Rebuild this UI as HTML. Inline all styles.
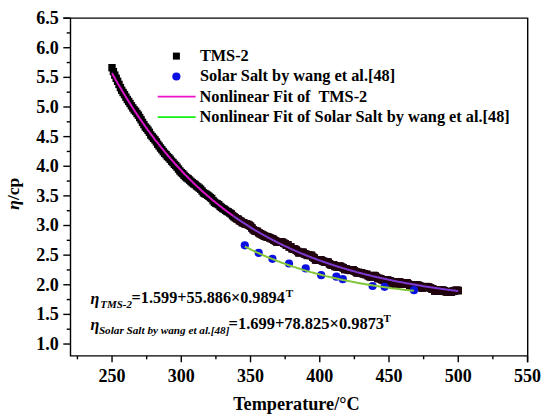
<!DOCTYPE html><html><head><meta charset="utf-8"><style>html,body{margin:0;padding:0;background:#fff;}svg{display:block;}text{font-family:"Liberation Serif",serif;font-weight:bold;fill:#000;}</style></head><body>
<svg width="550" height="417" viewBox="0 0 550 417">
<defs><clipPath id="cl"><rect x="0" y="0" width="233.5" height="417"/></clipPath><clipPath id="cr"><rect x="233.5" y="0" width="400" height="417"/></clipPath></defs>
<rect width="550" height="417" fill="#fff"/>
<g id="sq"><rect x="108.3" y="64.0" width="7.4" height="7.4"/><rect x="109.7" y="67.9" width="7.4" height="7.4"/><rect x="111.1" y="71.4" width="7.4" height="7.4"/><rect x="112.5" y="74.6" width="7.4" height="7.4"/><rect x="113.9" y="77.6" width="7.4" height="7.4"/><rect x="115.3" y="80.7" width="7.4" height="7.4"/><rect x="116.7" y="83.9" width="7.4" height="7.4"/><rect x="118.0" y="86.6" width="7.4" height="7.4"/><rect x="119.4" y="88.8" width="7.4" height="7.4"/><rect x="120.8" y="90.9" width="7.4" height="7.4"/><rect x="122.2" y="93.4" width="7.4" height="7.4"/><rect x="123.6" y="95.8" width="7.4" height="7.4"/><rect x="125.0" y="97.7" width="7.4" height="7.4"/><rect x="126.3" y="99.8" width="7.4" height="7.4"/><rect x="127.7" y="102.1" width="7.4" height="7.4"/><rect x="129.1" y="104.2" width="7.4" height="7.4"/><rect x="130.5" y="106.2" width="7.4" height="7.4"/><rect x="131.9" y="107.7" width="7.4" height="7.4"/><rect x="133.3" y="109.8" width="7.4" height="7.4"/><rect x="134.7" y="111.5" width="7.4" height="7.4"/><rect x="136.0" y="113.9" width="7.4" height="7.4"/><rect x="137.4" y="116.1" width="7.4" height="7.4"/><rect x="138.8" y="118.7" width="7.4" height="7.4"/><rect x="140.2" y="120.9" width="7.4" height="7.4"/><rect x="141.6" y="123.3" width="7.4" height="7.4"/><rect x="143.0" y="124.7" width="7.4" height="7.4"/><rect x="144.3" y="126.5" width="7.4" height="7.4"/><rect x="145.7" y="128.6" width="7.4" height="7.4"/><rect x="147.1" y="131.3" width="7.4" height="7.4"/><rect x="148.5" y="132.9" width="7.4" height="7.4"/><rect x="149.9" y="134.6" width="7.4" height="7.4"/><rect x="151.3" y="136.2" width="7.4" height="7.4"/><rect x="152.7" y="138.2" width="7.4" height="7.4"/><rect x="154.0" y="140.5" width="7.4" height="7.4"/><rect x="155.4" y="142.3" width="7.4" height="7.4"/><rect x="156.8" y="144.3" width="7.4" height="7.4"/><rect x="158.2" y="146.0" width="7.4" height="7.4"/><rect x="159.6" y="147.9" width="7.4" height="7.4"/><rect x="161.0" y="149.6" width="7.4" height="7.4"/><rect x="162.4" y="151.0" width="7.4" height="7.4"/><rect x="163.7" y="152.8" width="7.4" height="7.4"/><rect x="165.1" y="154.0" width="7.4" height="7.4"/><rect x="166.5" y="155.6" width="7.4" height="7.4"/><rect x="167.9" y="157.5" width="7.4" height="7.4"/><rect x="169.3" y="158.9" width="7.4" height="7.4"/><rect x="170.7" y="160.6" width="7.4" height="7.4"/><rect x="172.0" y="161.8" width="7.4" height="7.4"/><rect x="173.4" y="163.5" width="7.4" height="7.4"/><rect x="174.8" y="165.4" width="7.4" height="7.4"/><rect x="176.2" y="167.3" width="7.4" height="7.4"/><rect x="177.6" y="168.9" width="7.4" height="7.4"/><rect x="179.0" y="170.0" width="7.4" height="7.4"/><rect x="180.4" y="171.6" width="7.4" height="7.4"/><rect x="181.7" y="173.0" width="7.4" height="7.4"/><rect x="183.1" y="174.2" width="7.4" height="7.4"/><rect x="184.5" y="175.1" width="7.4" height="7.4"/><rect x="185.9" y="176.4" width="7.4" height="7.4"/><rect x="187.3" y="177.8" width="7.4" height="7.4"/><rect x="188.7" y="179.0" width="7.4" height="7.4"/><rect x="190.0" y="180.1" width="7.4" height="7.4"/><rect x="191.4" y="180.8" width="7.4" height="7.4"/><rect x="192.8" y="182.3" width="7.4" height="7.4"/><rect x="194.2" y="183.2" width="7.4" height="7.4"/><rect x="195.6" y="184.4" width="7.4" height="7.4"/><rect x="197.0" y="185.5" width="7.4" height="7.4"/><rect x="198.4" y="187.3" width="7.4" height="7.4"/><rect x="199.7" y="189.1" width="7.4" height="7.4"/><rect x="201.1" y="189.9" width="7.4" height="7.4"/><rect x="202.5" y="190.6" width="7.4" height="7.4"/><rect x="203.9" y="191.6" width="7.4" height="7.4"/><rect x="205.3" y="192.6" width="7.4" height="7.4"/><rect x="206.7" y="193.9" width="7.4" height="7.4"/><rect x="208.0" y="194.8" width="7.4" height="7.4"/><rect x="209.4" y="197.0" width="7.4" height="7.4"/><rect x="210.8" y="198.5" width="7.4" height="7.4"/><rect x="212.2" y="199.6" width="7.4" height="7.4"/><rect x="213.6" y="200.2" width="7.4" height="7.4"/><rect x="215.0" y="201.0" width="7.4" height="7.4"/><rect x="216.4" y="202.7" width="7.4" height="7.4"/><rect x="217.7" y="203.7" width="7.4" height="7.4"/><rect x="219.1" y="204.8" width="7.4" height="7.4"/><rect x="220.5" y="205.5" width="7.4" height="7.4"/><rect x="221.9" y="206.6" width="7.4" height="7.4"/><rect x="223.3" y="207.7" width="7.4" height="7.4"/><rect x="224.7" y="208.2" width="7.4" height="7.4"/><rect x="226.1" y="209.3" width="7.4" height="7.4"/><rect x="227.4" y="210.2" width="7.4" height="7.4"/><rect x="228.8" y="211.9" width="7.4" height="7.4"/><rect x="230.2" y="213.1" width="7.4" height="7.4"/><rect x="231.6" y="214.2" width="7.4" height="7.4"/><rect x="233.0" y="215.0" width="7.4" height="7.4"/><rect x="234.4" y="215.6" width="7.4" height="7.4"/><rect x="235.7" y="216.9" width="7.4" height="7.4"/><rect x="237.1" y="217.6" width="7.4" height="7.4"/><rect x="238.5" y="218.9" width="7.4" height="7.4"/><rect x="239.9" y="219.0" width="7.4" height="7.4"/><rect x="241.3" y="220.0" width="7.4" height="7.4"/><rect x="242.7" y="220.2" width="7.4" height="7.4"/><rect x="244.1" y="220.8" width="7.4" height="7.4"/><rect x="245.4" y="221.5" width="7.4" height="7.4"/><rect x="246.8" y="222.6" width="7.4" height="7.4"/><rect x="248.2" y="224.3" width="7.4" height="7.4"/><rect x="249.6" y="226.0" width="7.4" height="7.4"/><rect x="251.0" y="226.9" width="7.4" height="7.4"/><rect x="252.4" y="227.6" width="7.4" height="7.4"/><rect x="253.7" y="227.8" width="7.4" height="7.4"/><rect x="255.1" y="229.0" width="7.4" height="7.4"/><rect x="256.5" y="230.0" width="7.4" height="7.4"/><rect x="257.9" y="230.7" width="7.4" height="7.4"/><rect x="259.3" y="231.5" width="7.4" height="7.4"/><rect x="260.7" y="232.4" width="7.4" height="7.4"/><rect x="262.1" y="232.8" width="7.4" height="7.4"/><rect x="263.4" y="233.1" width="7.4" height="7.4"/><rect x="264.8" y="233.6" width="7.4" height="7.4"/><rect x="266.2" y="234.2" width="7.4" height="7.4"/><rect x="267.6" y="234.9" width="7.4" height="7.4"/><rect x="269.0" y="235.2" width="7.4" height="7.4"/><rect x="270.4" y="236.6" width="7.4" height="7.4"/><rect x="271.8" y="237.2" width="7.4" height="7.4"/><rect x="273.1" y="238.2" width="7.4" height="7.4"/><rect x="274.5" y="238.1" width="7.4" height="7.4"/><rect x="275.9" y="238.5" width="7.4" height="7.4"/><rect x="277.3" y="238.2" width="7.4" height="7.4"/><rect x="278.7" y="238.6" width="7.4" height="7.4"/><rect x="280.1" y="239.5" width="7.4" height="7.4"/><rect x="281.4" y="240.0" width="7.4" height="7.4"/><rect x="282.8" y="241.6" width="7.4" height="7.4"/><rect x="284.2" y="241.2" width="7.4" height="7.4"/><rect x="285.6" y="243.3" width="7.4" height="7.4"/><rect x="287.0" y="243.1" width="7.4" height="7.4"/><rect x="288.4" y="245.0" width="7.4" height="7.4"/><rect x="289.8" y="245.3" width="7.4" height="7.4"/><rect x="291.1" y="245.5" width="7.4" height="7.4"/><rect x="292.5" y="246.4" width="7.4" height="7.4"/><rect x="293.9" y="247.7" width="7.4" height="7.4"/><rect x="295.3" y="249.1" width="7.4" height="7.4"/><rect x="296.7" y="248.9" width="7.4" height="7.4"/><rect x="298.1" y="248.6" width="7.4" height="7.4"/><rect x="299.4" y="248.7" width="7.4" height="7.4"/><rect x="300.8" y="250.1" width="7.4" height="7.4"/><rect x="302.2" y="250.6" width="7.4" height="7.4"/><rect x="303.6" y="251.7" width="7.4" height="7.4"/><rect x="305.0" y="251.2" width="7.4" height="7.4"/><rect x="306.4" y="251.8" width="7.4" height="7.4"/><rect x="307.8" y="251.7" width="7.4" height="7.4"/><rect x="309.1" y="253.5" width="7.4" height="7.4"/><rect x="310.5" y="254.3" width="7.4" height="7.4"/><rect x="311.9" y="256.2" width="7.4" height="7.4"/><rect x="313.3" y="256.1" width="7.4" height="7.4"/><rect x="314.7" y="256.4" width="7.4" height="7.4"/><rect x="316.1" y="256.2" width="7.4" height="7.4"/><rect x="317.4" y="256.4" width="7.4" height="7.4"/><rect x="318.8" y="257.3" width="7.4" height="7.4"/><rect x="320.2" y="257.8" width="7.4" height="7.4"/><rect x="321.6" y="258.5" width="7.4" height="7.4"/><rect x="323.0" y="258.2" width="7.4" height="7.4"/><rect x="324.4" y="258.5" width="7.4" height="7.4"/><rect x="325.8" y="260.1" width="7.4" height="7.4"/><rect x="327.1" y="261.0" width="7.4" height="7.4"/><rect x="328.5" y="261.3" width="7.4" height="7.4"/><rect x="329.9" y="261.1" width="7.4" height="7.4"/><rect x="331.3" y="262.7" width="7.4" height="7.4"/><rect x="332.7" y="263.0" width="7.4" height="7.4"/><rect x="334.1" y="263.1" width="7.4" height="7.4"/><rect x="335.5" y="262.4" width="7.4" height="7.4"/><rect x="336.8" y="262.7" width="7.4" height="7.4"/><rect x="338.2" y="263.6" width="7.4" height="7.4"/><rect x="339.6" y="264.3" width="7.4" height="7.4"/><rect x="341.0" y="265.8" width="7.4" height="7.4"/><rect x="342.4" y="265.3" width="7.4" height="7.4"/><rect x="343.8" y="265.9" width="7.4" height="7.4"/><rect x="345.1" y="266.0" width="7.4" height="7.4"/><rect x="346.5" y="266.7" width="7.4" height="7.4"/><rect x="347.9" y="266.1" width="7.4" height="7.4"/><rect x="349.3" y="266.1" width="7.4" height="7.4"/><rect x="350.7" y="267.3" width="7.4" height="7.4"/><rect x="352.1" y="268.0" width="7.4" height="7.4"/><rect x="353.5" y="269.2" width="7.4" height="7.4"/><rect x="354.8" y="268.7" width="7.4" height="7.4"/><rect x="356.2" y="269.1" width="7.4" height="7.4"/><rect x="357.6" y="269.0" width="7.4" height="7.4"/><rect x="359.0" y="269.8" width="7.4" height="7.4"/><rect x="360.4" y="270.2" width="7.4" height="7.4"/><rect x="361.8" y="270.8" width="7.4" height="7.4"/><rect x="363.1" y="270.7" width="7.4" height="7.4"/><rect x="364.5" y="272.0" width="7.4" height="7.4"/><rect x="365.9" y="272.8" width="7.4" height="7.4"/><rect x="367.3" y="273.3" width="7.4" height="7.4"/><rect x="368.7" y="272.6" width="7.4" height="7.4"/><rect x="370.1" y="271.8" width="7.4" height="7.4"/><rect x="371.5" y="272.4" width="7.4" height="7.4"/><rect x="372.8" y="273.6" width="7.4" height="7.4"/><rect x="374.2" y="274.7" width="7.4" height="7.4"/><rect x="375.6" y="274.8" width="7.4" height="7.4"/><rect x="377.0" y="275.0" width="7.4" height="7.4"/><rect x="378.4" y="276.0" width="7.4" height="7.4"/><rect x="379.8" y="276.7" width="7.4" height="7.4"/><rect x="381.1" y="276.3" width="7.4" height="7.4"/><rect x="382.5" y="277.2" width="7.4" height="7.4"/><rect x="383.9" y="276.3" width="7.4" height="7.4"/><rect x="385.3" y="277.5" width="7.4" height="7.4"/><rect x="386.7" y="277.3" width="7.4" height="7.4"/><rect x="388.1" y="278.9" width="7.4" height="7.4"/><rect x="389.5" y="279.9" width="7.4" height="7.4"/><rect x="390.8" y="280.9" width="7.4" height="7.4"/><rect x="392.2" y="280.1" width="7.4" height="7.4"/><rect x="393.6" y="278.3" width="7.4" height="7.4"/><rect x="395.0" y="278.2" width="7.4" height="7.4"/><rect x="396.4" y="278.6" width="7.4" height="7.4"/><rect x="397.8" y="279.9" width="7.4" height="7.4"/><rect x="399.2" y="280.3" width="7.4" height="7.4"/><rect x="400.5" y="280.2" width="7.4" height="7.4"/><rect x="401.9" y="279.3" width="7.4" height="7.4"/><rect x="403.3" y="279.2" width="7.4" height="7.4"/><rect x="404.7" y="280.5" width="7.4" height="7.4"/><rect x="406.1" y="281.9" width="7.4" height="7.4"/><rect x="407.5" y="282.1" width="7.4" height="7.4"/><rect x="408.8" y="281.7" width="7.4" height="7.4"/><rect x="410.2" y="281.2" width="7.4" height="7.4"/><rect x="411.6" y="281.3" width="7.4" height="7.4"/><rect x="413.0" y="281.4" width="7.4" height="7.4"/><rect x="414.4" y="281.6" width="7.4" height="7.4"/><rect x="415.8" y="282.2" width="7.4" height="7.4"/><rect x="417.2" y="282.9" width="7.4" height="7.4"/><rect x="418.5" y="284.4" width="7.4" height="7.4"/><rect x="419.9" y="283.7" width="7.4" height="7.4"/><rect x="421.3" y="283.5" width="7.4" height="7.4"/><rect x="422.7" y="282.9" width="7.4" height="7.4"/><rect x="424.1" y="283.1" width="7.4" height="7.4"/><rect x="425.5" y="283.8" width="7.4" height="7.4"/><rect x="426.8" y="284.2" width="7.4" height="7.4"/><rect x="428.2" y="285.2" width="7.4" height="7.4"/><rect x="429.6" y="285.6" width="7.4" height="7.4"/><rect x="431.0" y="287.4" width="7.4" height="7.4"/><rect x="432.4" y="286.7" width="7.4" height="7.4"/><rect x="433.8" y="287.2" width="7.4" height="7.4"/><rect x="435.2" y="286.4" width="7.4" height="7.4"/><rect x="436.5" y="287.3" width="7.4" height="7.4"/><rect x="437.9" y="286.5" width="7.4" height="7.4"/><rect x="439.3" y="286.6" width="7.4" height="7.4"/><rect x="440.7" y="287.2" width="7.4" height="7.4"/><rect x="442.1" y="287.9" width="7.4" height="7.4"/><rect x="443.5" y="288.2" width="7.4" height="7.4"/><rect x="444.9" y="287.9" width="7.4" height="7.4"/><rect x="446.2" y="288.3" width="7.4" height="7.4"/><rect x="447.6" y="288.3" width="7.4" height="7.4"/><rect x="449.0" y="287.7" width="7.4" height="7.4"/><rect x="450.4" y="287.3" width="7.4" height="7.4"/><rect x="451.8" y="286.8" width="7.4" height="7.4"/><rect x="453.2" y="286.6" width="7.4" height="7.4"/><rect x="454.5" y="286.9" width="7.4" height="7.4"/></g>
<use href="#sq" fill="#22040f" clip-path="url(#cr)"/>
<polyline id="fl" points="112.0,73.1 113.2,75.2 114.4,77.3 115.5,79.4 116.7,81.4 117.8,83.4 119.0,85.4 120.1,87.4 121.3,89.3 122.4,91.3 123.6,93.2 124.7,95.1 125.9,97.0 127.0,98.9 128.2,100.8 129.4,102.6 130.5,104.4 131.7,106.2 132.8,108.0 134.0,109.8 135.1,111.6 136.3,113.3 137.4,115.1 138.6,116.8 139.7,118.5 140.9,120.2 142.0,121.8 143.2,123.5 144.4,125.1 145.5,126.8 146.7,128.4 147.8,130.0 149.0,131.5 150.1,133.1 151.3,134.7 152.4,136.2 153.6,137.7 154.7,139.3 155.9,140.8 157.1,142.2 158.2,143.7 159.4,145.2 160.5,146.6 161.7,148.0 162.8,149.5 164.0,150.9 165.1,152.3 166.3,153.7 167.4,155.0 168.6,156.4 169.7,157.7 170.9,159.1 172.1,160.4 173.2,161.7 174.4,163.0 175.5,164.3 176.7,165.6 177.8,166.8 179.0,168.1 180.1,169.3 181.3,170.5 182.4,171.8 183.6,173.0 184.7,174.2 185.9,175.4 187.1,176.5 188.2,177.7 189.4,178.9 190.5,180.0 191.7,181.1 192.8,182.3 194.0,183.4 195.1,184.5 196.3,185.6 197.4,186.7 198.6,187.7 199.7,188.8 200.9,189.9 202.1,190.9 203.2,191.9 204.4,193.0 205.5,194.0 206.7,195.0 207.8,196.0 209.0,197.0 210.1,198.0 211.3,198.9 212.4,199.9 213.6,200.9 214.8,201.8 215.9,202.8 217.1,203.7 218.2,204.6 219.4,205.5 220.5,206.4 221.7,207.3 222.8,208.2 224.0,209.1 225.1,210.0 226.3,210.8 227.4,211.7 228.6,212.6 229.8,213.4 230.9,214.2 232.1,215.1 233.2,215.9 234.4,216.7 235.5,217.5 236.7,218.3 237.8,219.1 239.0,219.9 240.1,220.7 241.3,221.4 242.4,222.2 243.6,222.9 244.8,223.7 245.9,224.4 247.1,225.2 248.2,225.9 249.4,226.6 250.5,227.3 251.7,228.1 252.8,228.8 254.0,229.5 255.1,230.2 256.3,230.8 257.4,231.5 258.6,232.2 259.8,232.9 260.9,233.5 262.1,234.2 263.2,234.8 264.4,235.5 265.5,236.1 266.7,236.7 267.8,237.4 269.0,238.0 270.1,238.6 271.3,239.2 272.5,239.8 273.6,240.4 274.8,241.0 275.9,241.6 277.1,242.2 278.2,242.8 279.4,243.3 280.5,243.9 281.7,244.5 282.8,245.0 284.0,245.6 285.1,246.1 286.3,246.7 287.5,247.2 288.6,247.7 289.8,248.3 290.9,248.8 292.1,249.3 293.2,249.8 294.4,250.3 295.5,250.8 296.7,251.3 297.8,251.8 299.0,252.3 300.1,252.8 301.3,253.3 302.5,253.8 303.6,254.3 304.8,254.7 305.9,255.2 307.1,255.7 308.2,256.1 309.4,256.6 310.5,257.0 311.7,257.5 312.8,257.9 314.0,258.3 315.1,258.8 316.3,259.2 317.5,259.6 318.6,260.1 319.8,260.5 320.9,260.9 322.1,261.3 323.2,261.7 324.4,262.1 325.5,262.5 326.7,262.9 327.8,263.3 329.0,263.7 330.2,264.1 331.3,264.5 332.5,264.8 333.6,265.2 334.8,265.6 335.9,266.0 337.1,266.3 338.2,266.7 339.4,267.0 340.5,267.4 341.7,267.7 342.8,268.1 344.0,268.4 345.2,268.8 346.3,269.1 347.5,269.5 348.6,269.8 349.8,270.1 350.9,270.5 352.1,270.8 353.2,271.1 354.4,271.4 355.5,271.7 356.7,272.1 357.8,272.4 359.0,272.7 360.2,273.0 361.3,273.3 362.5,273.6 363.6,273.9 364.8,274.2 365.9,274.5 367.1,274.8 368.2,275.0 369.4,275.3 370.5,275.6 371.7,275.9 372.8,276.2 374.0,276.4 375.2,276.7 376.3,277.0 377.5,277.2 378.6,277.5 379.8,277.8 380.9,278.0 382.1,278.3 383.2,278.5 384.4,278.8 385.5,279.0 386.7,279.3 387.9,279.5 389.0,279.8 390.2,280.0 391.3,280.3 392.5,280.5 393.6,280.7 394.8,281.0 395.9,281.2 397.1,281.4 398.2,281.7 399.4,281.9 400.5,282.1 401.7,282.3 402.9,282.5 404.0,282.8 405.2,283.0 406.3,283.2 407.5,283.4 408.6,283.6 409.8,283.8 410.9,284.0 412.1,284.2 413.2,284.4 414.4,284.6 415.5,284.8 416.7,285.0 417.9,285.2 419.0,285.4 420.2,285.6 421.3,285.8 422.5,286.0 423.6,286.2 424.8,286.4 425.9,286.5 427.1,286.7 428.2,286.9 429.4,287.1 430.5,287.3 431.7,287.4 432.9,287.6 434.0,287.8 435.2,287.9 436.3,288.1 437.5,288.3 438.6,288.4 439.8,288.6 440.9,288.8 442.1,288.9 443.2,289.1 444.4,289.3 445.6,289.4 446.7,289.6 447.9,289.7 449.0,289.9 450.2,290.0 451.3,290.2 452.5,290.3 453.6,290.5 454.8,290.6 455.9,290.8 457.1,290.9 458.2,291.0" fill="none" stroke="#d814c8" stroke-width="2" clip-path="url(#cl)"/>
<polyline points="112.0,73.1 113.2,75.2 114.4,77.3 115.5,79.4 116.7,81.4 117.8,83.4 119.0,85.4 120.1,87.4 121.3,89.3 122.4,91.3 123.6,93.2 124.7,95.1 125.9,97.0 127.0,98.9 128.2,100.8 129.4,102.6 130.5,104.4 131.7,106.2 132.8,108.0 134.0,109.8 135.1,111.6 136.3,113.3 137.4,115.1 138.6,116.8 139.7,118.5 140.9,120.2 142.0,121.8 143.2,123.5 144.4,125.1 145.5,126.8 146.7,128.4 147.8,130.0 149.0,131.5 150.1,133.1 151.3,134.7 152.4,136.2 153.6,137.7 154.7,139.3 155.9,140.8 157.1,142.2 158.2,143.7 159.4,145.2 160.5,146.6 161.7,148.0 162.8,149.5 164.0,150.9 165.1,152.3 166.3,153.7 167.4,155.0 168.6,156.4 169.7,157.7 170.9,159.1 172.1,160.4 173.2,161.7 174.4,163.0 175.5,164.3 176.7,165.6 177.8,166.8 179.0,168.1 180.1,169.3 181.3,170.5 182.4,171.8 183.6,173.0 184.7,174.2 185.9,175.4 187.1,176.5 188.2,177.7 189.4,178.9 190.5,180.0 191.7,181.1 192.8,182.3 194.0,183.4 195.1,184.5 196.3,185.6 197.4,186.7 198.6,187.7 199.7,188.8 200.9,189.9 202.1,190.9 203.2,191.9 204.4,193.0 205.5,194.0 206.7,195.0 207.8,196.0 209.0,197.0 210.1,198.0 211.3,198.9 212.4,199.9 213.6,200.9 214.8,201.8 215.9,202.8 217.1,203.7 218.2,204.6 219.4,205.5 220.5,206.4 221.7,207.3 222.8,208.2 224.0,209.1 225.1,210.0 226.3,210.8 227.4,211.7 228.6,212.6 229.8,213.4 230.9,214.2 232.1,215.1 233.2,215.9 234.4,216.7 235.5,217.5 236.7,218.3 237.8,219.1 239.0,219.9 240.1,220.7 241.3,221.4 242.4,222.2 243.6,222.9 244.8,223.7 245.9,224.4 247.1,225.2 248.2,225.9 249.4,226.6 250.5,227.3 251.7,228.1 252.8,228.8 254.0,229.5 255.1,230.2 256.3,230.8 257.4,231.5 258.6,232.2 259.8,232.9 260.9,233.5 262.1,234.2 263.2,234.8 264.4,235.5 265.5,236.1 266.7,236.7 267.8,237.4 269.0,238.0 270.1,238.6 271.3,239.2 272.5,239.8 273.6,240.4 274.8,241.0 275.9,241.6 277.1,242.2 278.2,242.8 279.4,243.3 280.5,243.9 281.7,244.5 282.8,245.0 284.0,245.6 285.1,246.1 286.3,246.7 287.5,247.2 288.6,247.7 289.8,248.3 290.9,248.8 292.1,249.3 293.2,249.8 294.4,250.3 295.5,250.8 296.7,251.3 297.8,251.8 299.0,252.3 300.1,252.8 301.3,253.3 302.5,253.8 303.6,254.3 304.8,254.7 305.9,255.2 307.1,255.7 308.2,256.1 309.4,256.6 310.5,257.0 311.7,257.5 312.8,257.9 314.0,258.3 315.1,258.8 316.3,259.2 317.5,259.6 318.6,260.1 319.8,260.5 320.9,260.9 322.1,261.3 323.2,261.7 324.4,262.1 325.5,262.5 326.7,262.9 327.8,263.3 329.0,263.7 330.2,264.1 331.3,264.5 332.5,264.8 333.6,265.2 334.8,265.6 335.9,266.0 337.1,266.3 338.2,266.7 339.4,267.0 340.5,267.4 341.7,267.7 342.8,268.1 344.0,268.4 345.2,268.8 346.3,269.1 347.5,269.5 348.6,269.8 349.8,270.1 350.9,270.5 352.1,270.8 353.2,271.1 354.4,271.4 355.5,271.7 356.7,272.1 357.8,272.4 359.0,272.7 360.2,273.0 361.3,273.3 362.5,273.6 363.6,273.9 364.8,274.2 365.9,274.5 367.1,274.8 368.2,275.0 369.4,275.3 370.5,275.6 371.7,275.9 372.8,276.2 374.0,276.4 375.2,276.7 376.3,277.0 377.5,277.2 378.6,277.5 379.8,277.8 380.9,278.0 382.1,278.3 383.2,278.5 384.4,278.8 385.5,279.0 386.7,279.3 387.9,279.5 389.0,279.8 390.2,280.0 391.3,280.3 392.5,280.5 393.6,280.7 394.8,281.0 395.9,281.2 397.1,281.4 398.2,281.7 399.4,281.9 400.5,282.1 401.7,282.3 402.9,282.5 404.0,282.8 405.2,283.0 406.3,283.2 407.5,283.4 408.6,283.6 409.8,283.8 410.9,284.0 412.1,284.2 413.2,284.4 414.4,284.6 415.5,284.8 416.7,285.0 417.9,285.2 419.0,285.4 420.2,285.6 421.3,285.8 422.5,286.0 423.6,286.2 424.8,286.4 425.9,286.5 427.1,286.7 428.2,286.9 429.4,287.1 430.5,287.3 431.7,287.4 432.9,287.6 434.0,287.8 435.2,287.9 436.3,288.1 437.5,288.3 438.6,288.4 439.8,288.6 440.9,288.8 442.1,288.9 443.2,289.1 444.4,289.3 445.6,289.4 446.7,289.6 447.9,289.7 449.0,289.9 450.2,290.0 451.3,290.2 452.5,290.3 453.6,290.5 454.8,290.6 455.9,290.8 457.1,290.9 458.2,291.0" fill="none" stroke="#7e3ad0" stroke-width="2" clip-path="url(#cr)"/>
<g fill="#0a10e0"><circle cx="244.8" cy="245.3" r="4.1"/><circle cx="258.7" cy="252.8" r="4.1"/><circle cx="272.4" cy="258.8" r="4.1"/><circle cx="289" cy="263.5" r="4.1"/><circle cx="305.7" cy="268.4" r="4.1"/><circle cx="321.2" cy="275.2" r="4.1"/><circle cx="336.4" cy="276.7" r="4.1"/><circle cx="342.8" cy="279.2" r="4.1"/><circle cx="372.6" cy="286" r="4.1"/><circle cx="384.6" cy="286.8" r="4.1"/><circle cx="414" cy="290.2" r="4.1"/></g>
<polyline points="244.8,246.5 246.5,247.3 248.2,248.2 249.9,249.0 251.6,249.9 253.3,250.7 255.0,251.5 256.7,252.3 258.4,253.0 260.1,253.8 261.8,254.6 263.4,255.3 265.1,256.0 266.8,256.8 268.5,257.5 270.2,258.2 271.9,258.9 273.6,259.5 275.3,260.2 277.0,260.9 278.7,261.5 280.4,262.1 282.0,262.8 283.7,263.4 285.4,264.0 287.1,264.6 288.8,265.2 290.5,265.8 292.2,266.3 293.9,266.9 295.6,267.4 297.3,268.0 299.0,268.5 300.6,269.1 302.3,269.6 304.0,270.1 305.7,270.6 307.4,271.1 309.1,271.6 310.8,272.1 312.5,272.5 314.2,273.0 315.9,273.5 317.6,273.9 319.2,274.3 320.9,274.8 322.6,275.2 324.3,275.6 326.0,276.1 327.7,276.5 329.4,276.9 331.1,277.3 332.8,277.7 334.5,278.1 336.2,278.4 337.8,278.8 339.5,279.2 341.2,279.5 342.9,279.9 344.6,280.2 346.3,280.6 348.0,280.9 349.7,281.3 351.4,281.6 353.1,281.9 354.8,282.2 356.4,282.6 358.1,282.9 359.8,283.2 361.5,283.5 363.2,283.8 364.9,284.1 366.6,284.4 368.3,284.6 370.0,284.9 371.7,285.2 373.4,285.5 375.0,285.7 376.7,286.0 378.4,286.2 380.1,286.5 381.8,286.7 383.5,287.0 385.2,287.2 386.9,287.5 388.6,287.7 390.3,287.9 391.9,288.2 393.6,288.4 395.3,288.6 397.0,288.8 398.7,289.0 400.4,289.2 402.1,289.5 403.8,289.7 405.5,289.9 407.2,290.1 408.9,290.2 410.5,290.4 412.2,290.6 413.9,290.8" fill="none" stroke="#84c63a" stroke-width="2"/>
<g stroke="#000" stroke-width="1.4" fill="none">
<path d="M63.3 18.1H527.7V362.3M70.5 18.1V355.9H527.7"/>
<path d="M63.3 18.10H70.5"/>
<path d="M63.3 47.73H70.5"/>
<path d="M63.3 77.36H70.5"/>
<path d="M63.3 106.99H70.5"/>
<path d="M63.3 136.62H70.5"/>
<path d="M63.3 166.25H70.5"/>
<path d="M63.3 195.88H70.5"/>
<path d="M63.3 225.51H70.5"/>
<path d="M63.3 255.14H70.5"/>
<path d="M63.3 284.77H70.5"/>
<path d="M63.3 314.40H70.5"/>
<path d="M63.3 344.03H70.5"/>
<path d="M66.7 32.91H70.5"/>
<path d="M66.7 62.55H70.5"/>
<path d="M66.7 92.18H70.5"/>
<path d="M66.7 121.81H70.5"/>
<path d="M66.7 151.44H70.5"/>
<path d="M66.7 181.06H70.5"/>
<path d="M66.7 210.69H70.5"/>
<path d="M66.7 240.32H70.5"/>
<path d="M66.7 269.95H70.5"/>
<path d="M66.7 299.59H70.5"/>
<path d="M66.7 329.22H70.5"/>
<path d="M112.04 355.9V362.3"/>
<path d="M181.28 355.9V362.3"/>
<path d="M250.52 355.9V362.3"/>
<path d="M319.76 355.9V362.3"/>
<path d="M389.00 355.9V362.3"/>
<path d="M458.24 355.9V362.3"/>
<path d="M527.48 355.9V362.3"/>
<path d="M77.42 355.9V359.3"/>
<path d="M146.66 355.9V359.3"/>
<path d="M215.90 355.9V359.3"/>
<path d="M285.14 355.9V359.3"/>
<path d="M354.38 355.9V359.3"/>
<path d="M423.62 355.9V359.3"/>
<path d="M492.86 355.9V359.3"/>
</g>
<text x="58.8" y="24.0" font-size="18" text-anchor="end">6.5</text>
<text x="58.8" y="53.6" font-size="18" text-anchor="end">6.0</text>
<text x="58.8" y="83.3" font-size="18" text-anchor="end">5.5</text>
<text x="58.8" y="112.9" font-size="18" text-anchor="end">5.0</text>
<text x="58.8" y="142.5" font-size="18" text-anchor="end">4.5</text>
<text x="58.8" y="172.2" font-size="18" text-anchor="end">4.0</text>
<text x="58.8" y="201.8" font-size="18" text-anchor="end">3.5</text>
<text x="58.8" y="231.4" font-size="18" text-anchor="end">3.0</text>
<text x="58.8" y="261.0" font-size="18" text-anchor="end">2.5</text>
<text x="58.8" y="290.7" font-size="18" text-anchor="end">2.0</text>
<text x="58.8" y="320.3" font-size="18" text-anchor="end">1.5</text>
<text x="58.8" y="349.9" font-size="18" text-anchor="end">1.0</text>
<text x="112.0" y="382" font-size="18" text-anchor="middle">250</text>
<text x="181.3" y="382" font-size="18" text-anchor="middle">300</text>
<text x="250.5" y="382" font-size="18" text-anchor="middle">350</text>
<text x="319.8" y="382" font-size="18" text-anchor="middle">400</text>
<text x="389.0" y="382" font-size="18" text-anchor="middle">450</text>
<text x="458.2" y="382" font-size="18" text-anchor="middle">500</text>
<text x="527.5" y="382" font-size="18" text-anchor="middle">550</text>
<text x="296.4" y="410" font-size="18.2" text-anchor="middle">Temperature/°C</text>
<text transform="translate(19,193.7) rotate(-90)" font-size="17.5" text-anchor="middle"><tspan font-style="italic">η</tspan>/cp</text>
<rect x="172.9" y="52.6" width="7" height="7" fill="#000"/>
<text x="199.9" y="61" font-size="16.3">TMS-2</text>
<circle cx="176.4" cy="76.5" r="4.1" fill="#0a10e0"/>
<text x="200" y="81.4" font-size="16.3">Solar Salt by wang et al.[48]</text>
<path d="M157.7 96.7H195.6" stroke="#f010c8" stroke-width="1.7"/>
<text x="199.6" y="101.8" font-size="16.3" style="white-space:pre">Nonlinear Fit of  TMS-2</text>
<path d="M157.7 117.1H195.6" stroke="#10f010" stroke-width="1.7"/>
<text x="199.6" y="122.2" font-size="16.3">Nonlinear Fit of Solar Salt by wang et al.[48]</text>
<text x="90.6" y="303.7" font-size="16" font-style="italic">η</text>
<text x="100.2" y="307.6" font-size="11.0" font-style="italic">TMS-2</text>
<text x="131.6" y="303.2" font-size="16.2">=1.599+55.886×0.9894</text>
<text x="285.8" y="296.6" font-size="11">T</text>
<text x="90.6" y="329.5" font-size="16" font-style="italic">η</text>
<text x="98.9" y="333.8" font-size="11.2" font-style="italic">Solar Salt by wang et al.[48]</text>
<text x="228.6" y="329.0" font-size="16.45">=1.699+78.825×0.9873</text>
<text x="383.6" y="322.4" font-size="11">T</text>
</svg></body></html>
